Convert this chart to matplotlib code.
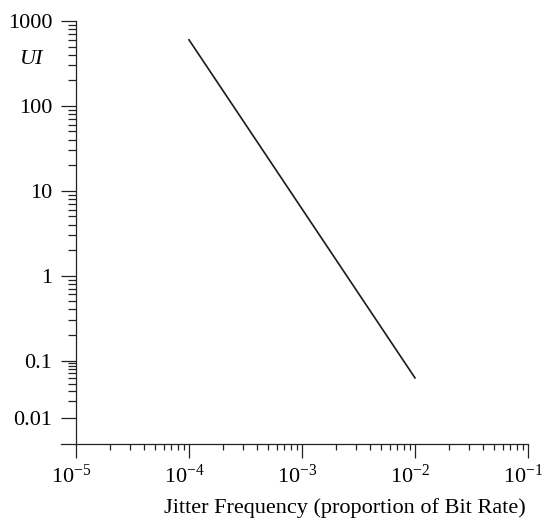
import numpy as np
import matplotlib
matplotlib.use("Agg")
import matplotlib.pyplot as plt
import matplotlib.transforms as mtrans
from matplotlib.ticker import FixedLocator, FixedFormatter, LogLocator, NullFormatter

plt.rcParams['font.family'] = ['Liberation Serif', 'DejaVu Serif']
plt.rcParams['mathtext.fontset'] = 'stix'

# data
freq = [1.0e-4, 1.0e-2]
ui = [600, 0.05]
y_ticks = [0.01, 0.1, 1, 10, 100, 1000]
y_labels = ['0.01', '0.1', '1', '10', '100', '1000']
x_ticks = [1e-5, 1e-4, 1e-3, 1e-2, 1e-1]
x_labels = [r'$\mathregular{10^{-5}}$', r'$\mathregular{10^{-4}}$', r'$\mathregular{10^{-3}}$',
            r'$\mathregular{10^{-2}}$', r'$\mathregular{10^{-1}}$']

# the decade below 0.1 is drawn squeezed in the original
K = 0.68

def fwd(y):
    l = np.log10(np.maximum(y, 1e-300))
    return np.where(l >= -1, l, -1 + (l + 1) * K)

def inv(t):
    t = np.asarray(t, dtype=float)
    return np.where(t >= -1, 10.0 ** t, 10.0 ** (-1 + (t + 1) / K))

fig = plt.figure(figsize=(5.42, 5.19), dpi=100)
ax = fig.add_axes([76 / 542, 1 - 444 / 519, (528 - 76) / 542, (444 - 21) / 519])

ax.plot(freq, ui, color='#1a1a1a', lw=1.2)

ax.set_xscale('log')
ax.set_yscale('function', functions=(fwd, inv))
ax.set_xlim(1e-5, 1e-1)
ax.set_ylim(10 ** (-1 - 0.983 / K), 1000)

ax.spines['top'].set_visible(False)
ax.spines['right'].set_visible(False)
x_left = 10 ** (-5 - 15 / 113)
ax.spines['bottom'].set_bounds(x_left, 1e-1)

ax.xaxis.set_major_locator(FixedLocator(x_ticks))
ax.xaxis.set_major_formatter(FixedFormatter(x_labels))
ax.xaxis.set_minor_locator(LogLocator(base=10, subs=np.arange(2, 10)))
ax.xaxis.set_minor_formatter(NullFormatter())

minor_y = [m * 10.0 ** e for e in range(-2, 3) for m in range(2, 10)]
ax.yaxis.set_major_locator(FixedLocator(y_ticks))
ax.yaxis.set_major_formatter(FixedFormatter(y_labels))
ax.yaxis.set_minor_locator(FixedLocator(minor_y))
ax.yaxis.set_minor_formatter(NullFormatter())

ax.tick_params(axis='both', which='both', direction='out', color='#222222', width=0.9, labelsize=16)
ax.tick_params(axis='y', which='major', length=11, pad=6)
ax.tick_params(axis='y', which='minor', length=5.5)
ax.tick_params(axis='x', which='major', length=10, pad=5)
ax.tick_params(axis='x', which='minor', length=4.5)
for s in ['left', 'bottom']:
    ax.spines[s].set_linewidth(0.9)
    ax.spines[s].set_color('#222222')

# x labels sit a little left of their ticks in the original
shift = mtrans.ScaledTranslation(-5 / 100, 0, fig.dpi_scale_trans)
for lab in ax.get_xticklabels():
    lab.set_transform(lab.get_transform() + shift)

ax.set_xlabel('Jitter Frequency (proportion of Bit Rate)', fontsize=16)
ax.xaxis.set_label_coords(0.595, -0.127)
fig.text(20 / 542, 1 - 60 / 519, 'UI', fontsize=16, style='italic', va='center', ha='left')

fig.savefig('out.png', dpi=100)
